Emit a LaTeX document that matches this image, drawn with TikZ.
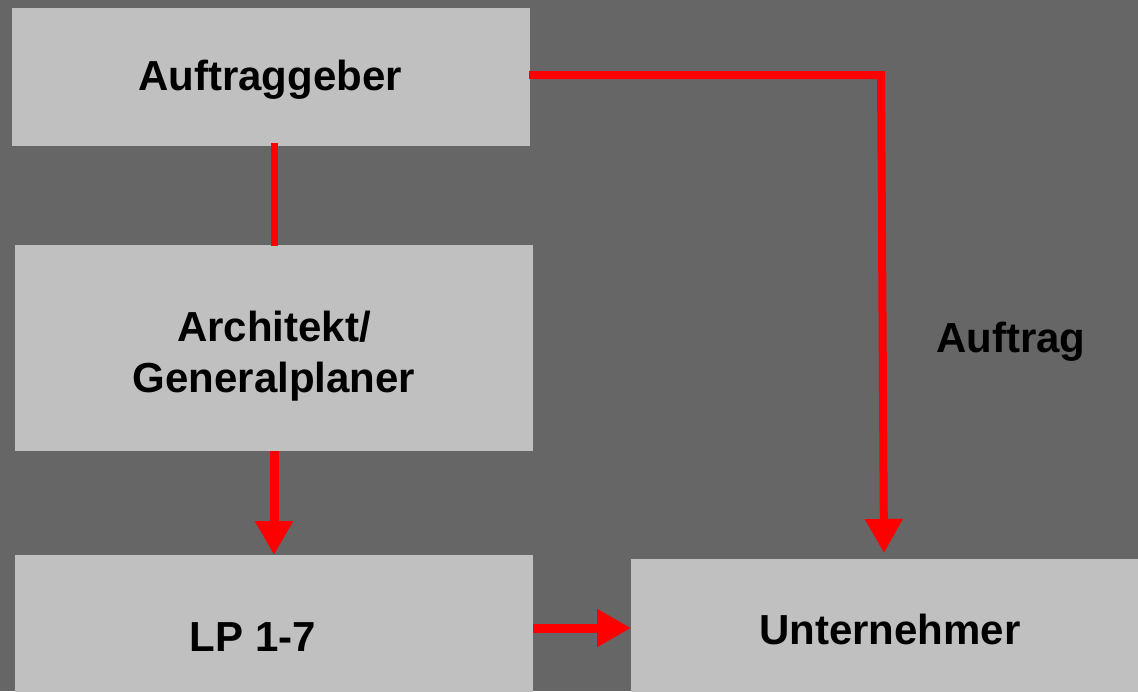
\documentclass[tikz,border=0pt]{standalone}
\usepackage{fontspec}
\setmainfont{Liberation Sans}
\usetikzlibrary{arrows.meta}
\definecolor{bg}{HTML}{666666}
\definecolor{boxc}{HTML}{C0C0C0}
\definecolor{ln}{HTML}{FF0000}
\begin{document}
\begin{tikzpicture}[x=1pt,y=-1pt,
  txt/.style={font=\fontsize{42}{51}\selectfont\bfseries,align=center,inner sep=0pt},
  box/.style={fill=boxc,draw=none,inner sep=0pt},
  conn/.style={draw=ln,line width=8pt},
  arr/.style={conn,line width=9pt,-{Triangle[length=34pt,width=36pt]}}]
\fill[bg] (0,0) rectangle (1138,691);
\useasboundingbox (0,0) rectangle (1138,691);
\node[box,minimum width=518pt,minimum height=138pt] (ag) at (271,77) {};
\node[txt] (agt) at (270,80) {Auftraggeber};
\node[box,minimum width=518pt,minimum height=206pt] (ar) at (274,348) {};
\node[txt] (art) at (274,356) {Architekt/\\Generalplaner};
\fill[boxc] (15,555) rectangle (533,700);
\node[box,minimum width=518pt,minimum height=136pt] (lp) at (274,623) {};
\node[txt] (lpt) at (253,637) {LP 1-7};
\fill[boxc] (631,559) rectangle (1145,700);
\node[box,minimum width=507pt,minimum height=132pt] (un) at (884.5,625) {};
\node[txt] (unt) at (890,629) {Unternehmer};
\node[txt] (lab) at (1011,342) {Auftrag};
\coordinate (c1) at (274,143);
\coordinate (c2) at (274,246);
\draw[conn,line width=7pt] (c1) -- (c2);
\coordinate (a1) at (274,451);
\coordinate (a2) at (274,555);
\draw[arr] (a1) -- (a2);
\coordinate (b1) at (533,628);
\coordinate (b2) at (631,628);
\draw[arr] (b1) -- (b2);
\coordinate (d1) at (529,75);
\coordinate (d2) at (881,75);
\coordinate (d3) at (884,553);
\draw[conn,-{Triangle[length=34pt,width=36pt]}] (d1) -- (d2) -- (d3);
\end{tikzpicture}
\end{document}
